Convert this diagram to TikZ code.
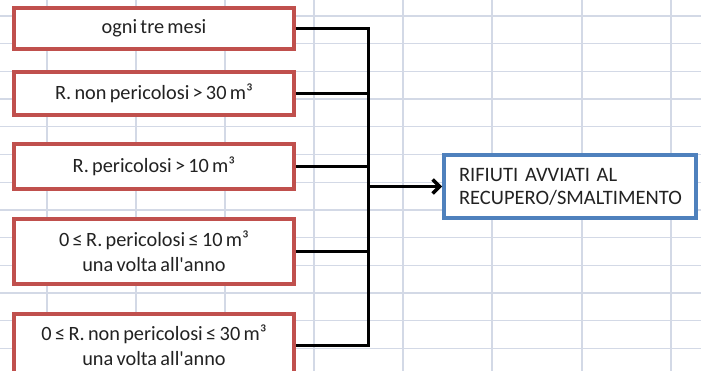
\documentclass[tikz,border=0pt]{standalone}
\usepackage{fontspec}
\setmainfont{Carlito}[Ligatures=TeXOff]
\usetikzlibrary{arrows.meta}
\definecolor{gridc}{HTML}{D3D9E6}
\definecolor{redb}{HTML}{C0504D}
\definecolor{blueb}{HTML}{4F81BD}
\definecolor{txt}{HTML}{222222}
\newcommand{\lesym}{\,≤\,}
% narrower interword spaces for the box texts
\newcommand{\condfont}{\fontsize{20.3}{25}\selectfont\setlength{\spaceskip}{0.16em plus 0.05em}}
\newcommand{\outfont}{\fontsize{20.5}{23}\selectfont\setlength{\spaceskip}{0.1em plus 0.03em}}
\tikzset{
  gridline/.style={draw=gridc, line width=1.3pt},
  condbox/.style={draw=redb, line width=4pt, fill=white, minimum width=280pt,
    inner sep=0pt, align=center, text=txt, font=\condfont},
  outbox/.style={draw=blueb, line width=4pt, fill=white, minimum height=63pt,
    inner xsep=15pt, inner ysep=0pt, text width=222pt, align=left, text=txt,
    font=\outfont},
  link/.style={draw=black, line width=3pt},
}
\begin{document}
\begin{tikzpicture}[x=1pt,y=-1pt]
\useasboundingbox (0,0) rectangle (701,371);
\clip (0,0) rectangle (701,371);
\fill[white] (0,0) rectangle (701,371);
% spreadsheet grid
\foreach \gx in {47,136,225,314,403,492,582,671}
  \draw[gridline] (\gx,0) -- (\gx,371);
\foreach \k in {0,...,13}
  \draw[gridline] (0,16+27.7*\k) -- (701,16+27.7*\k);
% condition boxes
\node[condbox, minimum height=41pt] (b1) at (154,28.5) {ogni tre mesi};
\node[condbox, minimum height=43pt] (b2) at (154,93.5) {R. non pericolosi > 30 m³};
\node[condbox, minimum height=45pt] (b3) at (154,166.5) {R. pericolosi > 10 m³};
\node[condbox, minimum height=65pt] (b4) at (154,251.5) {0\lesym R. pericolosi\lesym 10 m³\\una volta all'anno};
\node[condbox, minimum height=63pt] (b5) at (154,345.5) {0\lesym R. non pericolosi\lesym 30 m³\\una volta all'anno};
% output box
\node[outbox] (out) at (570,186.5) {RIFIUTI AVVIATI AL\\RECUPERO/SMALTIMENTO};
% collecting bus
\coordinate (bus) at (368.5,0);
\draw[link] (b1.east) -| (bus |- b5.east) -- (b5.east);
\draw[link] (b2.east) -- (bus |- b2.east);
\draw[link] (b3.east) -- (bus |- b3.east);
\draw[link] (b4.east) -- (bus |- b4.east);
\draw[link, line width=3.4pt, -{Straight Barb[length=7pt,width=14pt]}] (bus |- out.west) -- (out.west);
\end{tikzpicture}
\end{document}
